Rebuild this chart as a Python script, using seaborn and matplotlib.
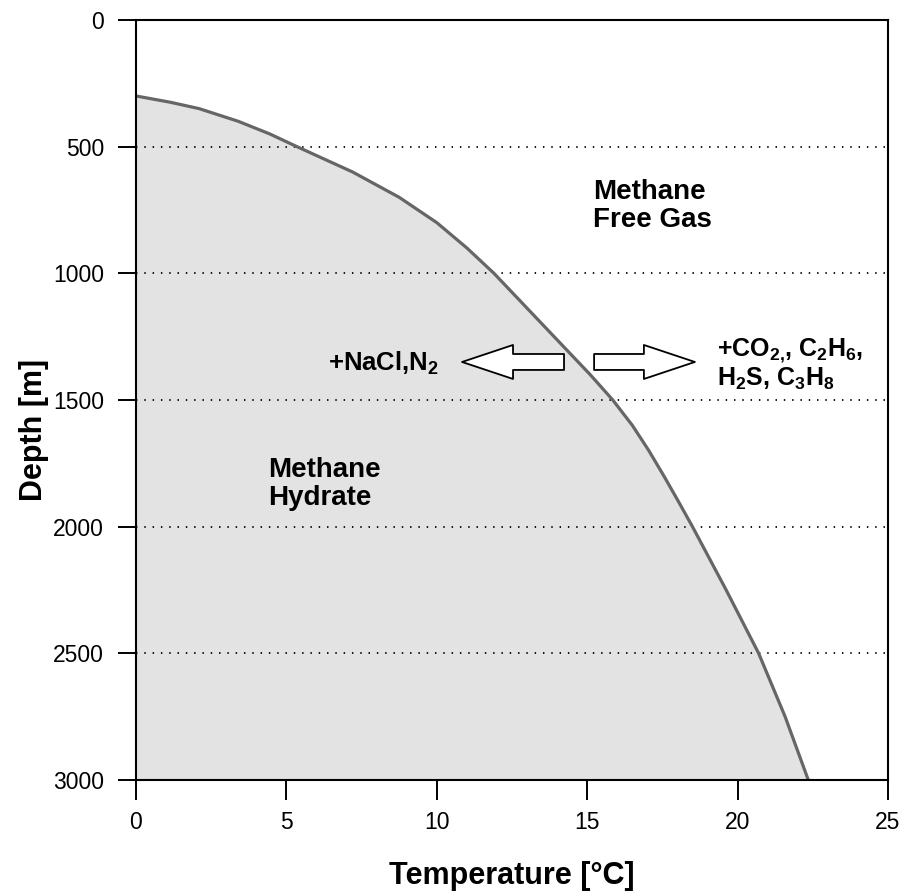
import matplotlib
matplotlib.use("Agg")
import matplotlib.pyplot as plt
import matplotlib.patches as mpatches
import seaborn as sns
import pandas as pd

# ---- data ----
depth = [300, 325, 350, 400, 450, 500, 600, 700, 800, 900, 1000, 1100, 1200, 1300, 1400,
         1500, 1600, 1700, 1800, 1900, 2000, 2250, 2500, 2750, 3000]
temperature = [0.0, 1.15, 2.1, 3.4, 4.45, 5.35, 7.2, 8.75, 10.0, 11.0, 11.9, 12.7, 13.5, 14.3, 15.1,
               15.85, 16.5, 17.05, 17.55, 18.03, 18.5, 19.62, 20.7, 21.58, 22.35]
x_ticks = [0, 5, 10, 15, 20, 25]
y_ticks = [0, 500, 1000, 1500, 2000, 2500, 3000]
grid_depths = [500, 1000, 1500, 2000, 2500]

sns.set_theme(style="white")
plt.rcParams["font.family"] = ["Liberation Sans", "DejaVu Sans"]
plt.rcParams["mathtext.fontset"] = "custom"
plt.rcParams["mathtext.rm"] = "Liberation Sans"
plt.rcParams["mathtext.bf"] = "Liberation Sans:bold"
plt.rcParams["mathtext.default"] = "regular"

df = pd.DataFrame({"T": temperature, "D": depth})

fig = plt.figure(figsize=(9.04, 8.91), dpi=100)
ax = fig.add_axes([0.1504, 0.1246, 0.8319, 0.8530])

ax.fill_betweenx(df["D"], 0, df["T"], color="#e3e3e3", zorder=1, linewidth=0)
sns.lineplot(data=df, x="T", y="D", sort=False, estimator=None, orient="y",
             color="#666666", linewidth=2.3, ax=ax, zorder=3)

for d in grid_depths:
    ax.axhline(d, color="black", linewidth=1.3, linestyle=(0, (0.8, 3.8)), zorder=2)

ax.set_xlim(0, 25)
ax.set_ylim(3000, 0)
ax.set_xticks(x_ticks)
ax.set_yticks(y_ticks)
ax.set_xticklabels([str(v) for v in x_ticks])
ax.set_yticklabels([str(v) for v in y_ticks])

for s in ax.spines.values():
    s.set_visible(True)
    s.set_color("black")
    s.set_linewidth(1.5)
    s.set_zorder(4)

ax.tick_params(axis="y", direction="out", length=13, width=1.4, color="black",
               labelsize=16.5, pad=10, left=True, labelcolor="black")
ax.tick_params(axis="x", direction="out", length=14.5, width=1.4, color="black",
               labelsize=16.5, pad=8, bottom=True, labelcolor="black")

ax.set_xlabel("Temperature [°C]", fontsize=22, fontweight="bold", color="black")
ax.set_ylabel("Depth [m]", fontsize=22, fontweight="bold", color="black")
ax.xaxis.label.set_va("baseline")
ax.xaxis.set_label_coords(0.5, -0.137)
ax.yaxis.label.set_va("baseline")
ax.yaxis.set_label_coords(-0.125, 0.4605)

ax.text(15.19, 734, "Methane\nFree Gas", fontsize=20, fontweight="bold",
        ha="left", va="center", linespacing=1.1, color="black", zorder=5)
ax.text(4.39, 1832, "Methane\nHydrate", fontsize=20, fontweight="bold",
        ha="left", va="center", linespacing=1.1, color="black", zorder=5)
ax.text(6.38, 1355, "+NaCl,N$_2$", fontsize=18.5, fontweight="bold",
        ha="left", va="center", color="black", zorder=5)
ax.text(19.31, 1360, "+CO$_{2{,}}$, C$_2$H$_6$,\nH$_2$S, C$_3$H$_8$", fontsize=18,
        fontweight="bold", ha="left", va="center", linespacing=1.05,
        color="black", zorder=5)

ms = 36.7
style = "simple,head_length=1.0,head_width=0.667,tail_width=0.313"
arrow_left = mpatches.FancyArrowPatch(posA=(14.23, 1350), posB=(10.84, 1350),
                                      arrowstyle=style, mutation_scale=ms,
                                      shrinkA=0, shrinkB=0, facecolor="white",
                                      edgecolor="black", linewidth=1.3, zorder=5)
arrow_right = mpatches.FancyArrowPatch(posA=(15.23, 1350), posB=(18.58, 1350),
                                       arrowstyle=style, mutation_scale=ms,
                                       shrinkA=0, shrinkB=0, facecolor="white",
                                       edgecolor="black", linewidth=1.3, zorder=5)
ax.add_patch(arrow_left)
ax.add_patch(arrow_right)

fig.savefig("out.png", dpi=100, facecolor="white")
